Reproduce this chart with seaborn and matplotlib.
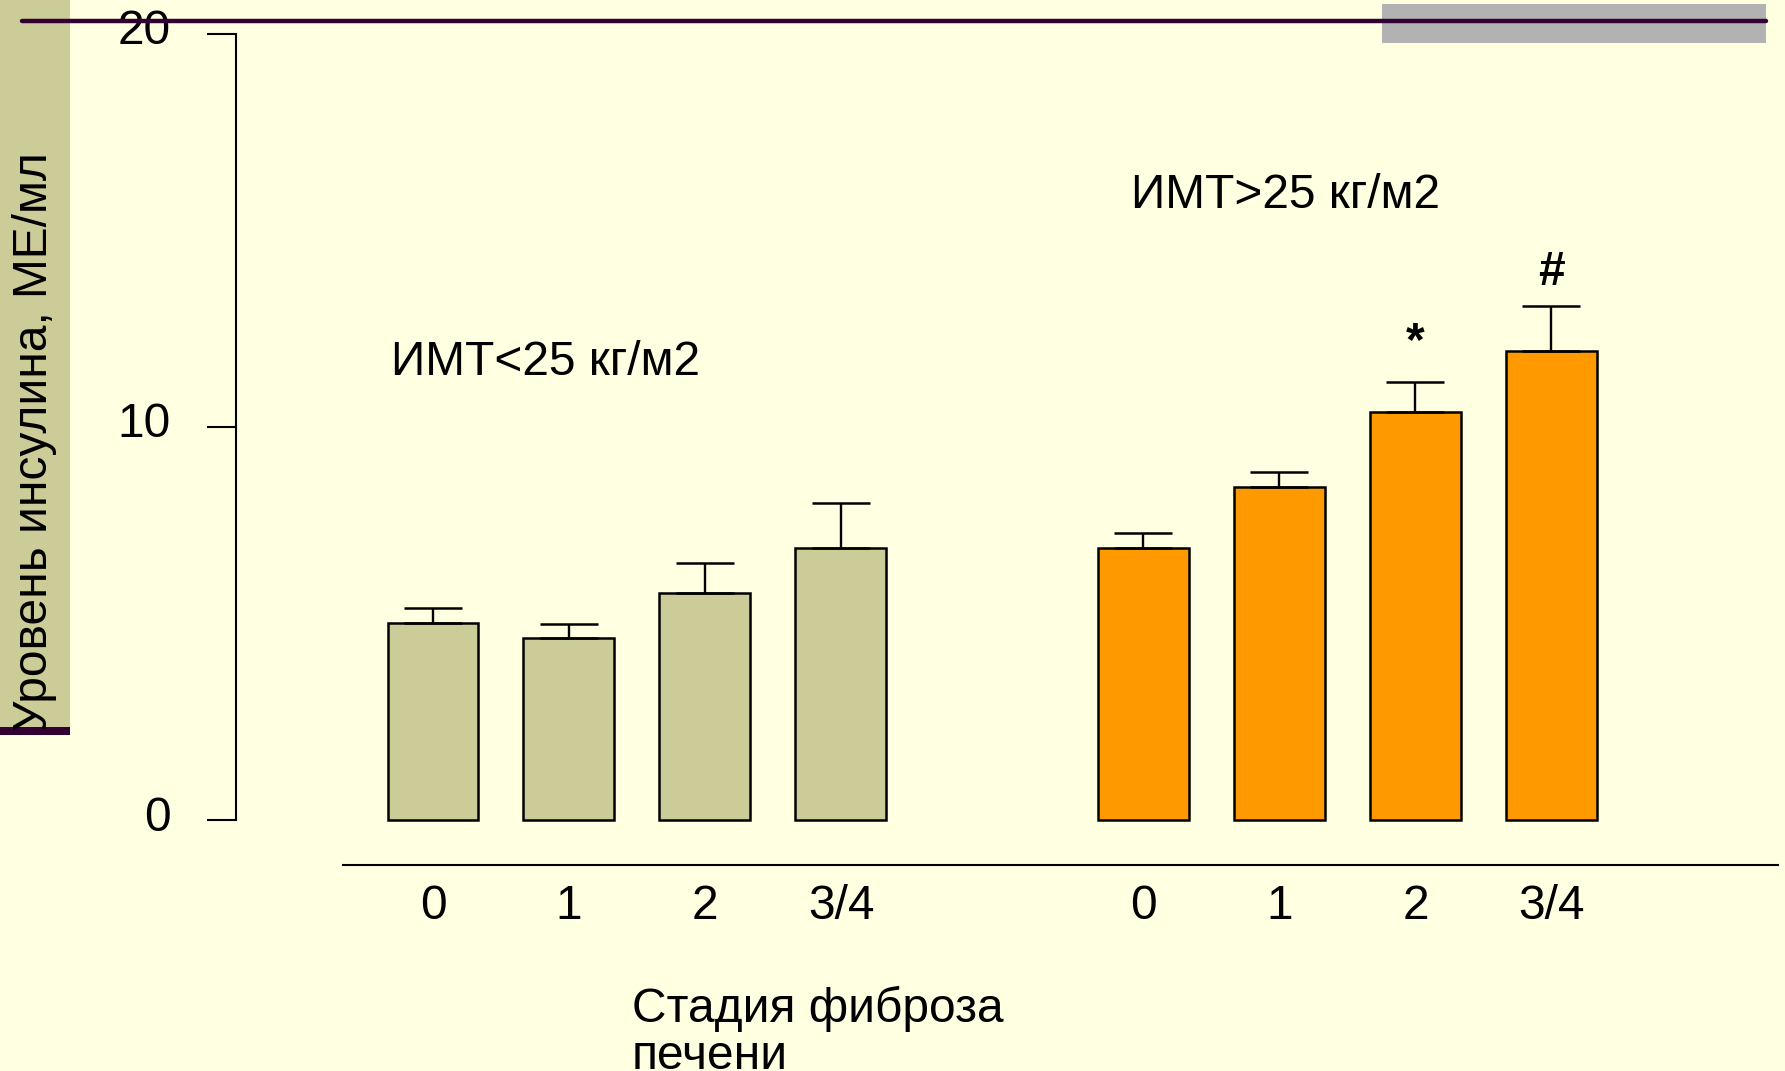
import numpy as np
import pandas as pd
import matplotlib
matplotlib.use("Agg")
import matplotlib.pyplot as plt
import matplotlib.patches as mpatches
import matplotlib.transforms as mtransforms
from matplotlib.lines import Line2D
import seaborn as sns

# values
stages = ["0", "1", "2", "3/4"]
low_bmi_mean = [5.00, 4.62, 5.76, 6.92]
low_bmi_err = [0.39, 0.37, 0.78, 1.15]
high_bmi_mean = [6.92, 8.46, 10.38, 11.92]
high_bmi_err = [0.38, 0.38, 0.77, 1.15]
group_names = ["ИМТ<25 кг/м2", "ИМТ>25 кг/м2"]
high_bmi_marks = ["", "", "*", "#"]
y_ticks = [0, 10, 20]

W, H = 1785, 1071
BG = "#FFFFE1"
BEIGE = "#CCCC99"
ORANGE = "#FF9900"
PURPLE = "#330033"
GROUP_GAP = 5.224  # x offset of the second group (in bar slots)
FS = 34.5

sns.set_theme(style="white", rc={"axes.edgecolor": "black", "xtick.color": "black",
                                 "ytick.color": "black", "text.color": "black"})
plt.rcParams["font.family"] = ["Liberation Sans", "DejaVu Sans"]

df = pd.DataFrame({
    "stage": stages * 2,
    "group": [group_names[0]] * 4 + [group_names[1]] * 4,
    "insulin": low_bmi_mean + high_bmi_mean,
    "err": low_bmi_err + high_bmi_err,
})
df["pos"] = list(np.arange(4)) + list(np.arange(4) + GROUP_GAP)

fig = plt.figure(figsize=(W / 100, H / 100), dpi=100, facecolor=BG)


def px_rect(x0, y0, x1, y1, color, z=1):
    fig.add_artist(mpatches.Rectangle((x0 / W, 1 - y1 / H), (x1 - x0) / W, (y1 - y0) / H,
                                      transform=fig.transFigure, facecolor=color,
                                      edgecolor="none", zorder=z))


# slide decorations
px_rect(0, 0, 70, 727, BEIGE)
px_rect(0, 727, 70, 735, PURPLE)
px_rect(1382, 4, 1766, 43, "#B2B2B2")
fig.add_artist(Line2D([22 / W, 1766 / W], [1 - 20.5 / H] * 2, transform=fig.transFigure,
                      color=PURPLE, lw=3.2, zorder=2))

ax = fig.add_axes([236 / W, 1 - 865 / H, (1778 - 236) / W, (865 - 33.5) / H])
ax.set_facecolor("none")

for name, color in zip(group_names, [BEIGE, ORANGE]):
    sub = df[df["group"] == name]
    sns.barplot(data=sub, x="pos", y="insulin", native_scale=True, width=0.669,
                color=color, edgecolor="black", linewidth=1.8, errorbar=None,
                saturation=1, ax=ax)
    ax.errorbar(sub["pos"], sub["insulin"], yerr=[np.zeros(len(sub)), sub["err"]],
                fmt="none", ecolor="black", elinewidth=1.7, capsize=21, capthick=1.8,
                zorder=3)

ax.set_xlim(-1.4485, 9.89)
ax.set_ylim(-1.144, 20)
ax.set_xticks(df["pos"])
ax.set_xticklabels(df["stage"])
ax.set_yticks(y_ticks)
ax.set_xlabel("")
ax.set_ylabel("")

for side in ["top", "right"]:
    ax.spines[side].set_visible(False)
ax.spines["left"].set_bounds(0, 20)
ax.spines["bottom"].set_bounds(-0.662, 9.89)
ax.spines["left"].set_linewidth(1.5)
ax.spines["bottom"].set_linewidth(1.5)

ax.tick_params(axis="y", left=True, direction="out", length=21, width=1.5,
               labelsize=FS, pad=26)
ax.tick_params(axis="x", bottom=False, length=0, labelsize=FS, pad=14)
offset = mtransforms.ScaledTranslation(0, 7 / 100, fig.dpi_scale_trans)
for lab in ax.get_yticklabels():
    lab.set_transform(lab.get_transform() + offset)

# group captions
ax.text(-0.31, 11.31, group_names[0], fontsize=FS, ha="left", va="baseline")
ax.text(5.13, 15.56, group_names[1], fontsize=FS, ha="left", va="baseline")

# significance marks
high = df[df["group"] == group_names[1]]
for (_, row), mark in zip(high.iterrows(), high_bmi_marks):
    if mark:
        lift = 0.54 if mark == "#" else 0.68
        ax.text(row["pos"], row["insulin"] + row["err"] + lift, mark, fontsize=FS,
                fontweight="bold", ha="center", va="baseline")

# multi-line text with va="baseline" is anchored on the last line
fig.text(632 / W, 1 - 1069 / H, "Стадия фиброза\nпечени", fontsize=FS,
         ha="left", va="baseline", linespacing=1.05)
fig.text(35 / W, 1 - 441.5 / H, "Уровень инсулина, МЕ/мл", fontsize=FS,
         rotation=90, ha="center", va="center", zorder=3)

fig.savefig("out.png", dpi=100, facecolor=BG)
